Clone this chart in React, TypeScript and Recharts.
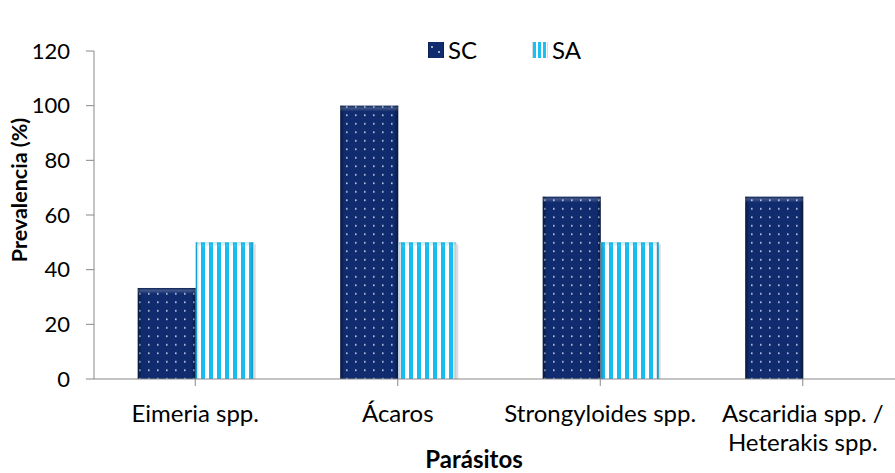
import React from "react";
import { BarChart, Bar, XAxis, YAxis, Legend, Label } from "recharts";

const categories = ["Eimeria spp.", "Ácaros", "Strongyloides spp.", "Ascaridia spp. / Heterakis spp."];
const scValues = [33.3, 100, 66.7, 66.7];
const saValues = [50, 50, 50, 0];
const yTicks = [0, 20, 40, 60, 80, 100, 120];

const data = categories.map((c, i) => ({ name: c, SC: scValues[i], SA: saValues[i] }));

const FONT = "Lato, 'Noto Sans', sans-serif";
const FS = 24;

const SCShape = (props: any) => {
  const { x, y, width, height } = props;
  if (!height || height <= 0) return null;
  return (
    <g>
      <rect x={x} y={y} width={width} height={height} fill="url(#scDots)" />
      <rect x={x} y={y} width={width} height={height} fill="url(#edgeH)" />
      <rect x={x} y={y} width={width} height={Math.min(6, height)} fill="url(#topHi)" />
    </g>
  );
};

const SAShape = (props: any) => {
  const { x, y, width, height } = props;
  if (!height || height <= 0) return null;
  return (
    <g>
      <rect x={x + 2} y={y + 2} width={width} height={height - 2} fill="#bbbbbb" opacity={0.5} />
      <rect x={x} y={y} width={width} height={height} fill="url(#saStripes)" />
      <rect x={x} y={y} width={width} height={height} fill="url(#edgeHLight)" />
      <rect x={x} y={y} width={width} height={Math.min(6, height)} fill="url(#topHiLight)" />
    </g>
  );
};

const CatTick = (props: any) => {
  const { x, y, payload } = props;
  const v: string = String(payload.value);
  const parts = v.split(" / ");
  const lines = parts.length > 1 ? [parts[0] + " /", parts[1]] : [v];
  return (
    <g>
      {lines.map((l, i) => (
        <text key={i} x={x} y={y} dy={30 + i * 29} textAnchor="middle" fontFamily={FONT} fontSize={FS} fill="#000">
          {l}
        </text>
      ))}
    </g>
  );
};

const LegendContent = () => (
  <div style={{ display: "flex", alignItems: "center", fontFamily: FONT, fontSize: FS, color: "#000", lineHeight: "24px" }}>
    <svg width={16} height={16} style={{ marginRight: 4 }}>
      <rect x={0} y={0} width={16} height={16} fill="#102c6e" />
      <rect x={0} y={0} width={16} height={16} fill="url(#edgeH)" />
      <circle cx={4} cy={5} r={1} fill="#d0d8e8" />
      <circle cx={11} cy={10} r={1} fill="#d0d8e8" />
    </svg>
    <span>SC</span>
    <svg width={16} height={16} style={{ marginLeft: 55, marginRight: 4 }}>
      <rect x={0} y={0} width={16} height={16} fill="#ffffff" />
      <rect x={1} y={0} width={3} height={16} fill="#1abff3" />
      <rect x={6} y={0} width={3} height={16} fill="#1abff3" />
      <rect x={11} y={0} width={3} height={16} fill="#1abff3" />
      <rect x={0} y={0} width={16} height={16} fill="url(#edgeHLight)" />
    </svg>
    <span>SA</span>
  </div>
);

export default function App() {
  return (
    <div style={{ position: "absolute", left: 0, top: 0, width: 895, height: 473, overflow: "hidden", background: "#fff" }}>
      <BarChart
        width={910}
        height={473}
        data={data}
        margin={{ top: 27, right: 6, bottom: 0, left: 0 }}
        barCategoryGap="21.6%"
        barGap={0}
      >
        <defs>
          <pattern id="scDots" width="9" height="8.5" patternUnits="userSpaceOnUse">
            <rect x="0" y="0" width="9" height="8.5" fill="#102c6e" />
            <rect x="4" y="4" width="1.6" height="1.6" fill="#c9d2e6" />
          </pattern>
          <pattern id="saStripes" width="8" height="8" patternUnits="userSpaceOnUse">
            <rect x="0" y="0" width="8" height="8" fill="#ffffff" />
            <rect x="1" y="0" width="4" height="8" fill="#15bdf2" />
          </pattern>
          <linearGradient id="edgeH" x1="0" y1="0" x2="1" y2="0">
            <stop offset="0" stopColor="#000" stopOpacity="0.45" />
            <stop offset="0.07" stopColor="#000" stopOpacity="0" />
            <stop offset="0.93" stopColor="#000" stopOpacity="0" />
            <stop offset="1" stopColor="#000" stopOpacity="0.45" />
          </linearGradient>
          <linearGradient id="edgeHLight" x1="0" y1="0" x2="1" y2="0">
            <stop offset="0" stopColor="#006a99" stopOpacity="0.35" />
            <stop offset="0.06" stopColor="#000" stopOpacity="0" />
            <stop offset="0.94" stopColor="#000" stopOpacity="0" />
            <stop offset="1" stopColor="#006a99" stopOpacity="0.35" />
          </linearGradient>
          <linearGradient id="topHi" x1="0" y1="0" x2="0" y2="1">
            <stop offset="0" stopColor="#000" stopOpacity="0.25" />
            <stop offset="0.4" stopColor="#fff" stopOpacity="0.2" />
            <stop offset="1" stopColor="#fff" stopOpacity="0" />
          </linearGradient>
          <linearGradient id="topHiLight" x1="0" y1="0" x2="0" y2="1">
            <stop offset="0" stopColor="#0090c0" stopOpacity="0.3" />
            <stop offset="1" stopColor="#fff" stopOpacity="0" />
          </linearGradient>
        </defs>
        <XAxis
          dataKey="name"
          interval={0}
          tick={<CatTick />}
          tickLine={{ stroke: "#888" }}
          axisLine={{ stroke: "#888", strokeWidth: 1 }}
          tickSize={7}
          tickMargin={6}
          height={94}
        >
          <Label
            content={() => (
              <text x={474} y={468} textAnchor="middle" fontFamily={FONT} fontSize={FS} fontWeight="bold" fill="#000">
                Parásitos
              </text>
            )}
          />
        </XAxis>
        <YAxis
          domain={[0, 120]}
          ticks={yTicks}
          interval={0}
          width={94}
          tickSize={8}
          tickMargin={16}
          tickLine={{ stroke: "#888" }}
          axisLine={{ stroke: "#888" }}
          tick={{ fontFamily: FONT, fontSize: 22, fill: "#000" }}
        >
          <Label
            content={() => (
              <text
                x={27}
                y={190}
                textAnchor="middle"
                transform="rotate(-90 27 190)"
                fontFamily={FONT}
                fontSize={21.5}
                fontWeight="bold"
                fill="#000"
              >
                Prevalencia (%)
              </text>
            )}
          />
        </YAxis>
        <Legend
          verticalAlign="top"
          content={<LegendContent />}
          wrapperStyle={{ top: 38, left: 428, width: "auto" }}
        />
        <Bar dataKey="SC" name="SC" shape={<SCShape />} isAnimationActive={false} />
        <Bar dataKey="SA" name="SA" shape={<SAShape />} isAnimationActive={false} />
      </BarChart>
    </div>
  );
}
